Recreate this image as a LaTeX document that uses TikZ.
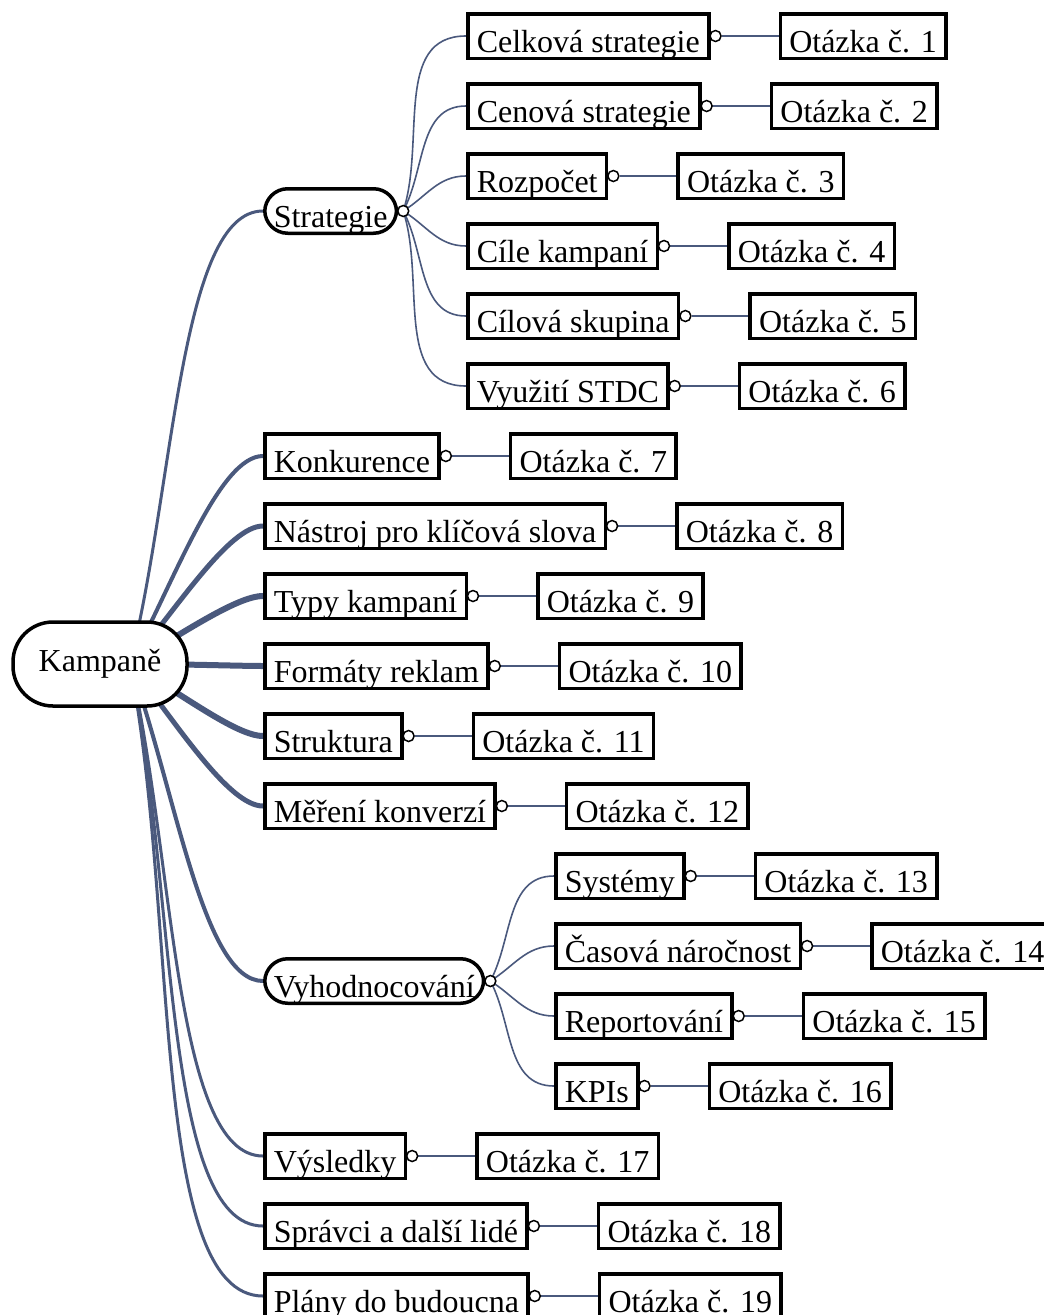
\documentclass[tikz,border=0pt]{standalone}
\usepackage{fontspec}
\setmainfont{Liberation Serif}
\usetikzlibrary{positioning,backgrounds}
\definecolor{LinkSlate}{RGB}{74,89,125}

\begin{document}
\begin{tikzpicture}[x=1pt,y=-1pt,node distance=68pt,
  box/.style={draw=black,line width=3.5pt,fill=white,inner xsep=9pt,inner ysep=0pt,
    text height=38.5pt,text depth=6pt,font=\fontsize{32}{36}\selectfont},
  topic/.style={box,anchor=west},
  branch/.style={box,anchor=west,rounded corners=23pt},
  rootbox/.style={box,rounded corners=40pt,minimum width=174pt,minimum height=84pt,
    text height=22pt,text depth=7pt},
  knob/.style={circle,draw=black,line width=1.5pt,fill=white,inner sep=0pt,minimum size=11pt},
  link/.style={draw=LinkSlate,line width=1.6pt},
  trunk/.style={draw=LinkSlate,line width=#1,in looseness=0.45}]
\useasboundingbox (0,0) rectangle (1044,1315);

% root and first level
\node[rootbox] (root) at (100,664) {Kampaně};
\node[branch] (strat) at (263,211) {Strategie};
\node[topic] (konk) at (263,456) {Konkurence};
\node[topic] (nastr) at (263,526) {Nástroj pro klíčová slova};
\node[topic] (typy) at (263,596) {Typy kampaní};
\node[topic] (form) at (263,666) {Formáty reklam};
\node[topic] (strukt) at (263,736) {Struktura};
\node[topic] (mer) at (263,806) {Měření konverzí};
\node[branch] (vyhod) at (263,981) {Vyhodnocování};
\node[topic] (vysl) at (263,1156) {Výsledky};
\node[topic] (sprav) at (263,1226) {Správci a další lidé};
\node[topic] (plany) at (263,1296) {Plány do budoucna};

% under Strategie
\node[topic] (celk) at (466,36) {Celková strategie};
\node[topic] (cen) at (466,106) {Cenová strategie};
\node[topic] (rozp) at (466,176) {Rozpočet};
\node[topic] (cile) at (466,246) {Cíle kampaní};
\node[topic] (skup) at (466,316) {Cílová skupina};
\node[topic] (stdc) at (466,386) {Využití STDC};

% under Vyhodnocování
\node[topic] (sys) at (554,876) {Systémy};
\node[topic] (cas) at (554,946) {Časová náročnost};
\node[topic] (rep) at (554,1016) {Reportování};
\node[topic] (kpi) at (554,1086) {KPIs};

% questions
\node[box,right=of celk] (q1) {Otázka č. 1};
\node[box,right=of cen] (q2) {Otázka č. 2};
\node[box,right=of rozp] (q3) {Otázka č. 3};
\node[box,right=of cile] (q4) {Otázka č. 4};
\node[box,right=of skup] (q5) {Otázka č. 5};
\node[box,right=of stdc] (q6) {Otázka č. 6};
\node[box,right=of konk] (q7) {Otázka č. 7};
\node[box,right=of nastr] (q8) {Otázka č. 8};
\node[box,right=of typy] (q9) {Otázka č. 9};
\node[box,right=of form] (q10) {Otázka č. 10};
\node[box,right=of strukt] (q11) {Otázka č. 11};
\node[box,right=of mer] (q12) {Otázka č. 12};
\node[box,right=of sys] (q13) {Otázka č. 13};
\node[box,right=of cas] (q14) {Otázka č. 14};
\node[box,right=of rep] (q15) {Otázka č. 15};
\node[box,right=of kpi] (q16) {Otázka č. 16};
\node[box,right=of vysl] (q17) {Otázka č. 17};
\node[box,right=of sprav] (q18) {Otázka č. 18};
\node[box,right=of plany] (q19) {Otázka č. 19};

% knobs
\node[knob] (kstrat) at ([xshift=5pt]strat.east) {};
\node[knob] (kvyhod) at ([xshift=5pt]vyhod.east) {};
\node[knob] (k1) at ([xshift=5pt]celk.east) {};
\node[knob] (k2) at ([xshift=5pt]cen.east) {};
\node[knob] (k3) at ([xshift=5pt]rozp.east) {};
\node[knob] (k4) at ([xshift=5pt]cile.east) {};
\node[knob] (k5) at ([xshift=5pt]skup.east) {};
\node[knob] (k6) at ([xshift=5pt]stdc.east) {};
\node[knob] (k7) at ([xshift=5pt]konk.east) {};
\node[knob] (k8) at ([xshift=5pt]nastr.east) {};
\node[knob] (k9) at ([xshift=5pt]typy.east) {};
\node[knob] (k10) at ([xshift=5pt]form.east) {};
\node[knob] (k11) at ([xshift=5pt]strukt.east) {};
\node[knob] (k12) at ([xshift=5pt]mer.east) {};
\node[knob] (k13) at ([xshift=5pt]sys.east) {};
\node[knob] (k14) at ([xshift=5pt]cas.east) {};
\node[knob] (k15) at ([xshift=5pt]rep.east) {};
\node[knob] (k16) at ([xshift=5pt]kpi.east) {};
\node[knob] (k17) at ([xshift=5pt]vysl.east) {};
\node[knob] (k18) at ([xshift=5pt]sprav.east) {};
\node[knob] (k19) at ([xshift=5pt]plany.east) {};

\begin{scope}[on background layer]
\fill[white] (0,0) rectangle (1044,1315);
\coordinate (core) at ([xshift=30pt]root.center);
% trunks from the root
\draw[trunk=3pt] (core) to[out=76,in=180] (strat.west);
\draw[trunk=4pt] (core) to[out=62,in=180] (konk.west);
\draw[trunk=5pt] (core) to[out=50,in=180] (nastr.west);
\draw[trunk=6pt] (core) to[out=30,in=180] (typy.west);
\draw[trunk=6pt] (core) to[out=0,in=180] (form.west);
\draw[trunk=6pt] (core) to[out=-30,in=180] (strukt.west);
\draw[trunk=5pt] (core) to[out=-52,in=180] (mer.west);
\draw[trunk=4pt] (core) to[out=-70,in=180] (vyhod.west);
\draw[trunk=3pt] (core) to[out=-77,in=180] (vysl.west);
\draw[trunk=3pt] (core) to[out=-78,in=180] (sprav.west);
\draw[trunk=3pt] (core) to[out=-79,in=180] (plany.west);
% second level
\draw[link] (kstrat.center) to[out=72,in=180] (celk.west);
\draw[link] (kstrat.center) to[out=62,in=180] (cen.west);
\draw[link] (kstrat.center) to[out=32,in=180] (rozp.west);
\draw[link] (kstrat.center) to[out=-32,in=180] (cile.west);
\draw[link] (kstrat.center) to[out=-62,in=180] (skup.west);
\draw[link] (kstrat.center) to[out=-72,in=180] (stdc.west);
\draw[link] (kvyhod.center) to[out=62,in=180] (sys.west);
\draw[link] (kvyhod.center) to[out=32,in=180] (cas.west);
\draw[link] (kvyhod.center) to[out=-32,in=180] (rep.west);
\draw[link] (kvyhod.center) to[out=-62,in=180] (kpi.west);
% questions
\draw[link] (k1) -- (q1);
\draw[link] (k2) -- (q2);
\draw[link] (k3) -- (q3);
\draw[link] (k4) -- (q4);
\draw[link] (k5) -- (q5);
\draw[link] (k6) -- (q6);
\draw[link] (k7) -- (q7);
\draw[link] (k8) -- (q8);
\draw[link] (k9) -- (q9);
\draw[link] (k10) -- (q10);
\draw[link] (k11) -- (q11);
\draw[link] (k12) -- (q12);
\draw[link] (k13) -- (q13);
\draw[link] (k14) -- (q14);
\draw[link] (k15) -- (q15);
\draw[link] (k16) -- (q16);
\draw[link] (k17) -- (q17);
\draw[link] (k18) -- (q18);
\draw[link] (k19) -- (q19);
\end{scope}
\end{tikzpicture}
\end{document}
